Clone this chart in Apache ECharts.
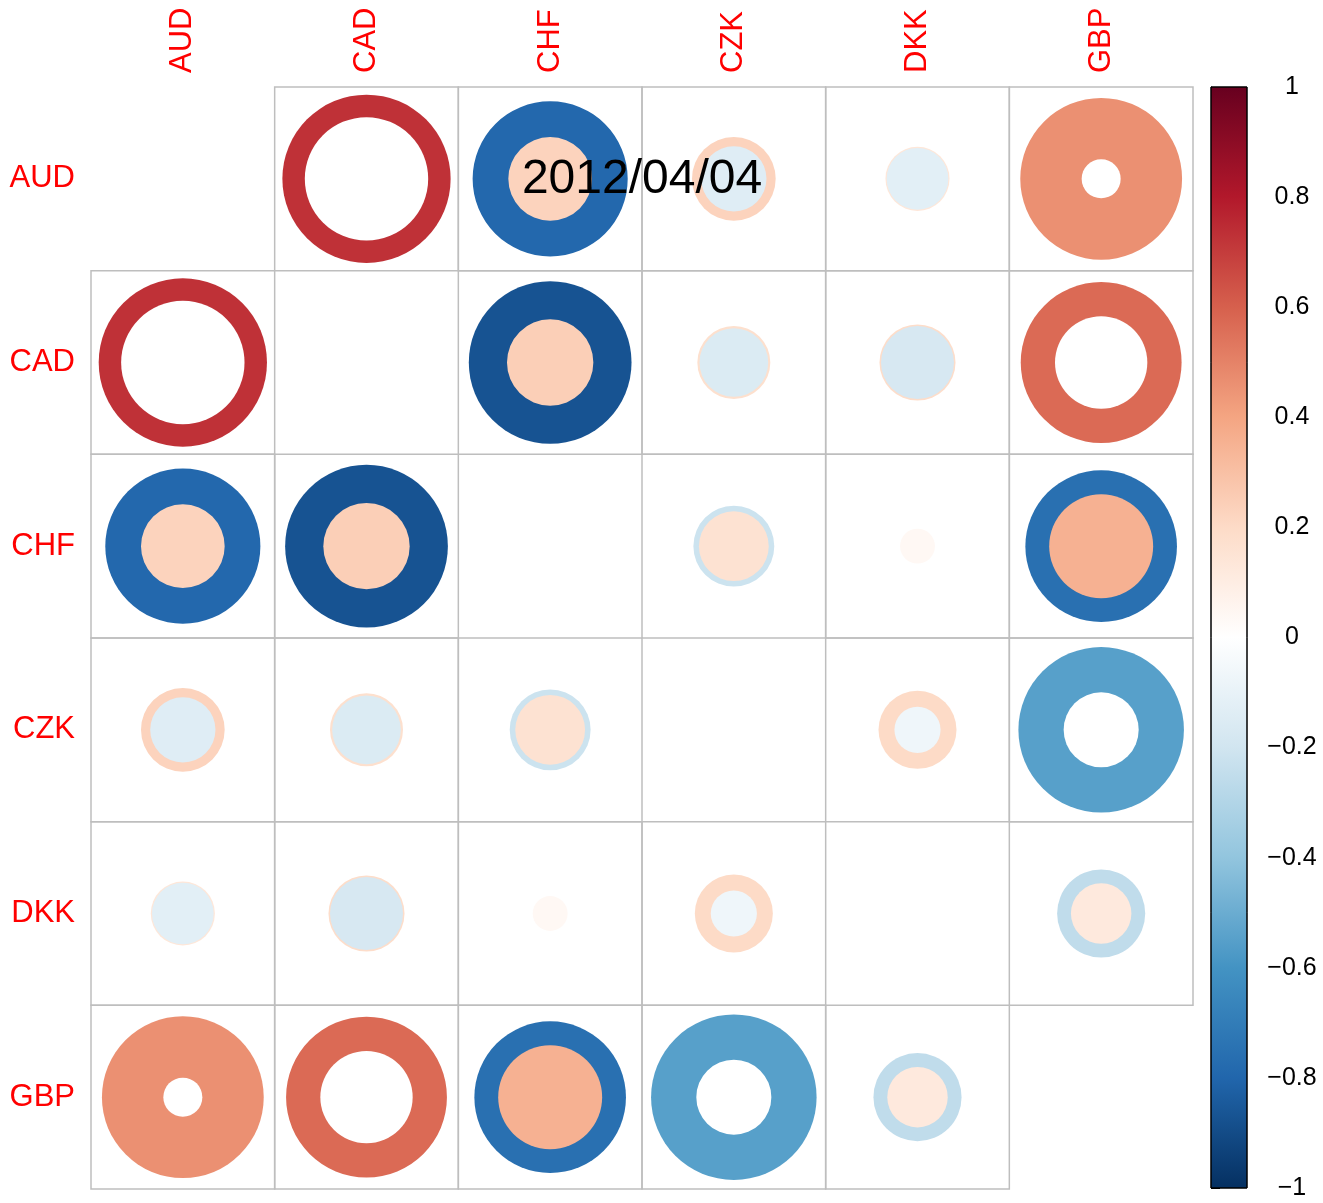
<!DOCTYPE html>
<html><head><meta charset="utf-8">
<script src="https://cdn.jsdelivr.net/npm/echarts@6.0.0/dist/echarts.min.js"></script>
<style>html,body{margin:0;padding:0;background:#fff}#c{width:1323px;height:1203px}</style>
</head><body><div id="c"></div>
<script>
// ---- data ----
const currencies = ['AUD', 'CAD', 'CHF', 'CZK', 'DKK', 'GBP'];
const chartTitle = '2012/04/04';
// upper-triangle pairs [row, col]; the matrix is symmetric
const pairs = [[0,1],[0,2],[0,3],[0,4],[0,5],[1,2],[1,3],[1,4],[1,5],[2,3],[2,4],[2,5],[3,4],[3,5],[4,5]];
// lower / upper confidence bounds and point estimate (shown only when CI excludes 0)
const lowerCI = [0.50, -0.79, -0.14, -0.125, 0.05, -0.87, -0.155, -0.175, 0.28, -0.215, 0.0, -0.755, -0.07, -0.90, -0.255];
const upperCI = [0.93,  0.23,  0.23,  0.135, 0.86,  0.245, 0.175,  0.19,  0.85,  0.16,  0.04,  0.355,  0.20, -0.185, 0.12];
const corrEst = [0.73, null, null, null, 0.46, null, null, null, 0.57, null, null, null, null, -0.55, null];
// colour-bar ticks
const cbTicks  = [-1, -0.8, -0.6, -0.4, -0.2, 0, 0.2, 0.4, 0.6, 0.8, 1];
const cbLabels = ['\u22121', '\u22120.8', '\u22120.6', '\u22120.4', '\u22120.2', '0', '0.2', '0.4', '0.6', '0.8', '1'];
// RdBu palette from -1 to 1
const palette = ['#053061','#2166AC','#4393C3','#92C5DE','#D1E5F0','#FFFFFF','#FDDBC7','#F4A582','#D6604D','#B2182B','#67001F'];

function hex2rgb(h){return [parseInt(h.slice(1,3),16),parseInt(h.slice(3,5),16),parseInt(h.slice(5,7),16)];}
function colorOf(v){
  const t = Math.max(0, Math.min(1, (v + 1) / 2)) * (palette.length - 1);
  const i = Math.min(palette.length - 2, Math.floor(t));
  const f = t - i;
  const a = hex2rgb(palette[i]), b = hex2rgb(palette[i+1]);
  const c = a.map((x, k) => Math.round(x + (b[k] - x) * f));
  return 'rgb(' + c.join(',') + ')';
}

// build symmetric cell list
const cellData = [];
pairs.forEach((p, k) => {
  cellData.push([p[1], p[0], k]);
  cellData.push([p[0], p[1], k]);
});

const FONT = '"Liberation Sans", Arial, sans-serif';
const chart = echarts.init(document.getElementById('c'), null, {renderer: 'canvas'});

const gradStops = palette.map((c, i) => ({offset: 1 - i / (palette.length - 1), color: c}));

chart.setOption({
  animation: false,
  backgroundColor: '#ffffff',
  grid: [
    {left: 91, top: 87, width: 1102, height: 1102, containLabel: false},
    {left: 1211, top: 87, width: 36, height: 1101, containLabel: false}
  ],
  xAxis: [
    {gridIndex: 0, type: 'category', data: currencies, position: 'top',
     axisLine: {show: false}, axisTick: {show: false}, splitLine: {show: false},
     axisLabel: {rotate: -90, color: '#ff0000', fontSize: 31, fontFamily: FONT, margin: 14}},
    {gridIndex: 1, type: 'value', min: 0, max: 1, show: false}
  ],
  yAxis: [
    {gridIndex: 0, type: 'category', data: currencies, inverse: true,
     axisLine: {show: false}, axisTick: {show: false}, splitLine: {show: false},
     axisLabel: {color: '#ff0000', fontSize: 31, fontFamily: FONT, margin: 16}},
    {gridIndex: 1, type: 'value', min: -1, max: 1, interval: 0.2, position: 'right',
     axisLine: {show: true, lineStyle: {color: '#000', width: 1}},
     axisTick: {show: true, length: 9, lineStyle: {color: '#000', width: 1}},
     splitLine: {show: false},
     axisLabel: {color: '#000', fontSize: 25, fontFamily: FONT, margin: 45, align: 'center',
       formatter: v => { const i = cbTicks.findIndex(t => Math.abs(t - v) < 1e-6); return i >= 0 ? cbLabels[i] : ''; }}}
  ],
  series: [
    {
      type: 'custom', xAxisIndex: 0, yAxisIndex: 0, data: cellData,
      renderItem: (params, api) => {
        const col = api.value(0), row = api.value(1), k = api.value(2);
        const c = api.coord([col, row]);
        const s = api.size([1, 1]);
        const R = s[0] * 0.95 / 2;
        const lo = lowerCI[k], up = upperCI[k];
        const sig = lo * up > 0;
        const big = Math.abs(lo) >= Math.abs(up) ? lo : up;
        const small = big === lo ? up : lo;
        const bigCol = sig ? colorOf(corrEst[k]) : colorOf(big);
        const smallCol = sig ? '#ffffff' : colorOf(small);
        return {
          type: 'group',
          children: [
            {type: 'rect', shape: {x: c[0] - s[0] / 2, y: c[1] - s[1] / 2, width: s[0], height: s[1]},
             style: {fill: 'none', stroke: '#BEBEBE', lineWidth: 1.5}},
            {type: 'circle', shape: {cx: c[0], cy: c[1], r: R * Math.sqrt(Math.abs(big))},
             style: {fill: bigCol}},
            {type: 'circle', shape: {cx: c[0], cy: c[1], r: R * Math.sqrt(Math.abs(small))},
             style: {fill: smallCol}}
          ]
        };
      }
    },
    {
      type: 'custom', xAxisIndex: 1, yAxisIndex: 1, data: [[0, 0]], z: 1,
      renderItem: (params, api) => {
        const top = api.coord([0, 1]), bot = api.coord([1, -1]);
        return {
          type: 'rect',
          shape: {x: top[0], y: top[1], width: bot[0] - top[0], height: bot[1] - top[1]},
          style: {fill: new echarts.graphic.LinearGradient(0, 0, 0, 1, gradStops), stroke: '#000', lineWidth: 1}
        };
      }
    }
  ]
});

// title centred on the plot, at the first row
const pA = chart.convertToPixel({gridIndex: 0}, [2, 0]);
const pB = chart.convertToPixel({gridIndex: 0}, [3, 0]);
chart.setOption({
  graphic: [{type: 'text', z: 100, x: (pA[0] + pB[0]) / 2, y: pA[1] + 1,
    style: {text: chartTitle, font: '48px ' + FONT, fill: '#000', align: 'center', verticalAlign: 'middle'}}]
});
</script>
</body></html>
